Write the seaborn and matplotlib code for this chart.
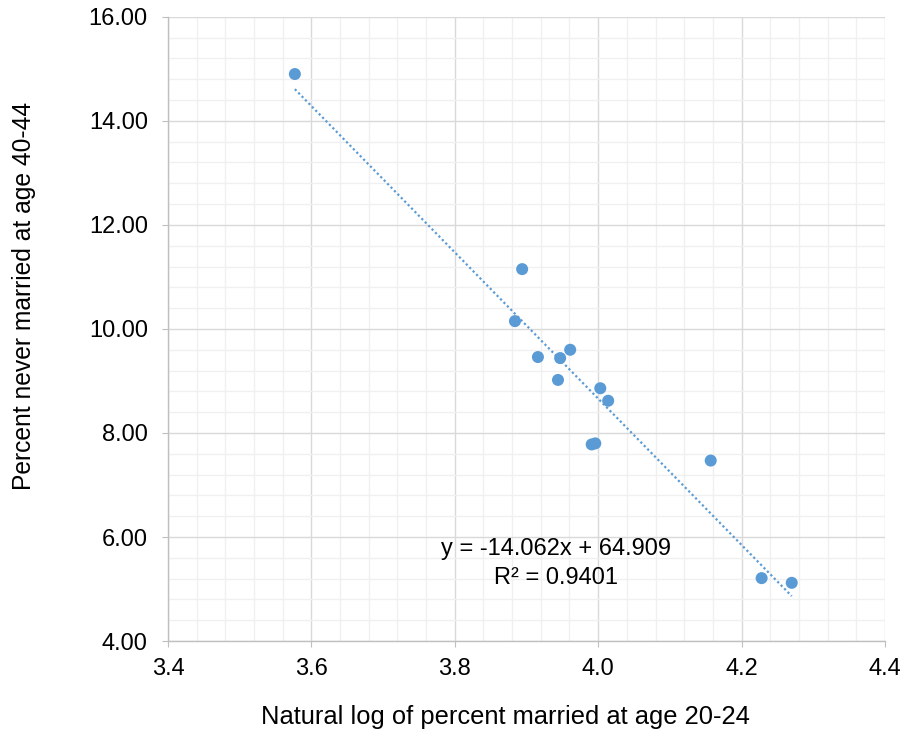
import numpy as np
import pandas as pd
import matplotlib
matplotlib.use("Agg")
import matplotlib.pyplot as plt
from matplotlib.ticker import MultipleLocator, FormatStrFormatter
import seaborn as sns

# data
ln_married_20_24 = [3.577, 3.894, 3.884, 3.916, 3.947, 3.961, 3.944,
                    4.003, 4.014, 3.991, 3.996, 4.157, 4.228, 4.270]
never_married_40_44 = [14.90, 11.15, 10.15, 9.46, 9.44, 9.60, 9.02,
                       8.86, 8.62, 7.78, 7.80, 7.47, 5.21, 5.12]

slope = -14.062
intercept = 64.909
r_squared = 0.9401

blue = "#5B9BD5"

df = pd.DataFrame({"x": ln_married_20_24, "y": never_married_40_44})
trend_x = np.array([min(ln_married_20_24), max(ln_married_20_24)])
trend = pd.DataFrame({"x": trend_x, "y": slope * trend_x + intercept})

sns.set_style("white")
plt.rcParams["font.family"] = ["Liberation Sans", "DejaVu Sans"]
plt.rcParams["text.color"] = "black"
plt.rcParams["axes.labelcolor"] = "black"

fig = plt.figure(figsize=(9.03, 7.31), dpi=100)
ax = fig.add_axes([0.186, 0.123, 0.794, 0.854])

sns.lineplot(data=trend, x="x", y="y", ax=ax, color=blue, linestyle=(0, (1, 1.2)),
             linewidth=1.6, zorder=2)
sns.scatterplot(data=df, x="x", y="y", ax=ax, color=blue, s=75, edgecolor="none",
                zorder=3)

ax.set_xlim(3.4, 4.4)
ax.set_ylim(4, 16)
ax.xaxis.set_major_locator(MultipleLocator(0.2))
ax.xaxis.set_minor_locator(MultipleLocator(0.04))
ax.yaxis.set_major_locator(MultipleLocator(2))
ax.yaxis.set_minor_locator(MultipleLocator(0.4))
ax.xaxis.set_major_formatter(FormatStrFormatter("%.1f"))
ax.yaxis.set_major_formatter(FormatStrFormatter("%.2f"))

ax.grid(which="major", color="#d9d9d9", linewidth=1.0)
ax.grid(which="minor", color="#f0f0f0", linewidth=1.0)
ax.set_axisbelow(True)

for side in ["top", "right"]:
    ax.spines[side].set_visible(False)
for side in ["left", "bottom"]:
    ax.spines[side].set_color("#bfbfbf")
    ax.spines[side].set_linewidth(1.0)

ax.tick_params(axis="both", which="major", labelsize=17, length=4.5, color="#bfbfbf",
               labelcolor="#000000", direction="out", left=True, bottom=True)
ax.tick_params(axis="x", which="major", pad=8)
ax.tick_params(axis="y", which="major", pad=10)
ax.tick_params(which="minor", length=0)

ax.set_xlabel("Natural log of percent married at age 20-24", fontsize=18.4, labelpad=18)
ax.set_ylabel("Percent never married at age 40-44", fontsize=17.7, labelpad=38)
ax.xaxis.label.set_x(0.470)
ax.yaxis.label.set_y(0.553)

ax.text(3.941, 5.77, f"y = {slope:.3f}x + {intercept:.3f}", fontsize=17,
        ha="center", va="center")
ax.text(3.941, 5.21, f"R² = {r_squared:.4f}", fontsize=17, ha="center", va="center")

fig.savefig("out.png", dpi=100)
